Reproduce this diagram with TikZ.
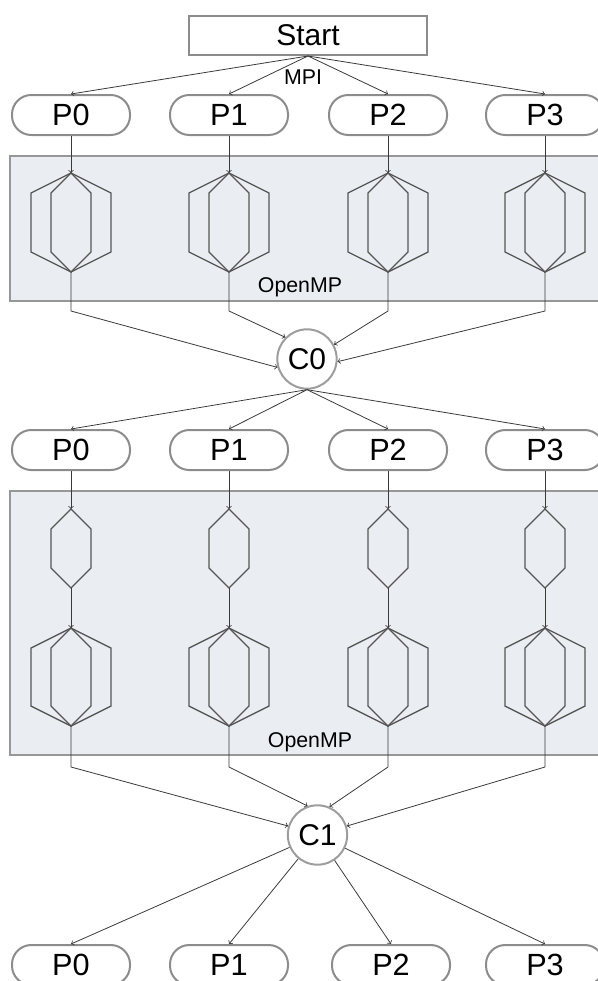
\documentclass[tikz,border=0pt]{standalone}
\usepackage{fontspec}
\setmainfont{Liberation Sans}
\definecolor{nodegray}{HTML}{8C8C8C}
\definecolor{ompfill}{HTML}{EAEEF2}
\definecolor{linegray}{HTML}{3A3A3A}
\definecolor{threadgray}{HTML}{555555}
\begin{document}
\begin{tikzpicture}[x=0.75pt, y=-0.75pt, >=to,
    proc/.style={draw=nodegray, line width=1.5pt, rounded corners=14.5pt,
      minimum width=88.5pt, minimum height=30pt, inner sep=0pt,
      font=\fontsize{23}{27}\selectfont},
    comm/.style={circle, draw=nodegray!85, line width=1.5pt, minimum size=44.5pt,
      inner sep=0pt, font=\fontsize{22.5}{27}\selectfont},
    region/.style={draw=nodegray!90, line width=1.5pt, fill=ompfill},
    link/.style={draw=linegray, line width=0.6pt, ->},
    thread/.style={draw=threadgray, line width=1pt, line join=miter},
    tag/.style={inner sep=0pt, font=\fontsize{16}{19}\selectfont}]
        \useasboundingbox (0,0) rectangle (598,981);

        % Shoulder height and widths of the thread shapes
        \def\sh{20}
        \def\wide{40}
        \def\narrow{20}

        % OpenMP regions
        \draw[region] (10,156) rectangle (606,301);
        \draw[region] (10,491) rectangle (606,755);
        \node[tag, anchor=base] (omp1) at (300,292) {OpenMP};
        \node[tag, anchor=base] (omp2) at (310,747) {OpenMP};

        % Start and the MPI label
        \node[draw=nodegray, line width=1.5pt, minimum width=178.5pt, minimum height=29.25pt,
          inner sep=0pt, font=\fontsize{22.5}{27}\selectfont] (start) at (308,35.5) {Start};
        \node[tag] (mpi) at (303,77) {MPI};

        % Process rows and collective nodes
        \foreach \x [count=\i from 0] in {71,229,388,545} {
          \node[proc] (a\i) at (\x,115) {P\i};
          \node[proc] (b\i) at (\x,450) {P\i};
        }
        \foreach \x [count=\i from 0] in {71,229,391,545} {
          \node[proc] (d\i) at (\x,965) {P\i};
        }
        \node[comm] (c0) at (307,359) {C0};
        \node[comm] (c1) at (317.5,835) {C1};

        % First parallel section: one fork-join per process
        \foreach \x/\a [count=\i from 0] in {71/196,229/135,388/28,545/-5} {
          \coordinate (ta\i) at (\x,173);
          \coordinate (ba\i) at (\x,272);
          \coordinate (ea\i) at (\x,311);
          \draw[thread] (ta\i) -- ++(-\wide,\sh) -- ++(0,59) -- (ba\i) -- ++(\wide,-\sh) -- ++(0,-59) -- cycle;
          \draw[thread] (ta\i) -- ++(-\narrow,\sh) -- ++(0,59) -- (ba\i) -- ++(\narrow,-\sh) -- ++(0,-59) -- cycle;
          \draw[link] (start.south) -- (a\i.north);
          \draw[link] (a\i.south) -- (ta\i);
          \draw[link] (ba\i) -- (ea\i) -- (c0.\a);
          \draw[link] (c0.south) -- (b\i.north);
        }

        % Second parallel section: a single thread, then a fork-join
        \foreach \x/\a [count=\i from 0] in {71/163,229/109,388/67,545/17} {
          \coordinate (ts\i) at (\x,509);
          \coordinate (bs\i) at (\x,588);
          \coordinate (td\i) at (\x,628);
          \coordinate (bd\i) at (\x,726);
          \coordinate (eb\i) at (\x,767);
          \draw[thread] (ts\i) -- ++(-\narrow,\sh) -- ++(0,39) -- (bs\i) -- ++(\narrow,-\sh) -- ++(0,-39) -- cycle;
          \draw[thread] (td\i) -- ++(-\wide,\sh) -- ++(0,58) -- (bd\i) -- ++(\wide,-\sh) -- ++(0,-58) -- cycle;
          \draw[thread] (td\i) -- ++(-\narrow,\sh) -- ++(0,58) -- (bd\i) -- ++(\narrow,-\sh) -- ++(0,-58) -- cycle;
          \draw[link] (b\i.south) -- (ts\i);
          \draw[link] (bs\i) -- (td\i);
          \draw[link] (bd\i) -- (eb\i) -- (c1.\a);
          \draw[link] (c1) -- (d\i.north);
        }
      \end{tikzpicture}
\end{document}
